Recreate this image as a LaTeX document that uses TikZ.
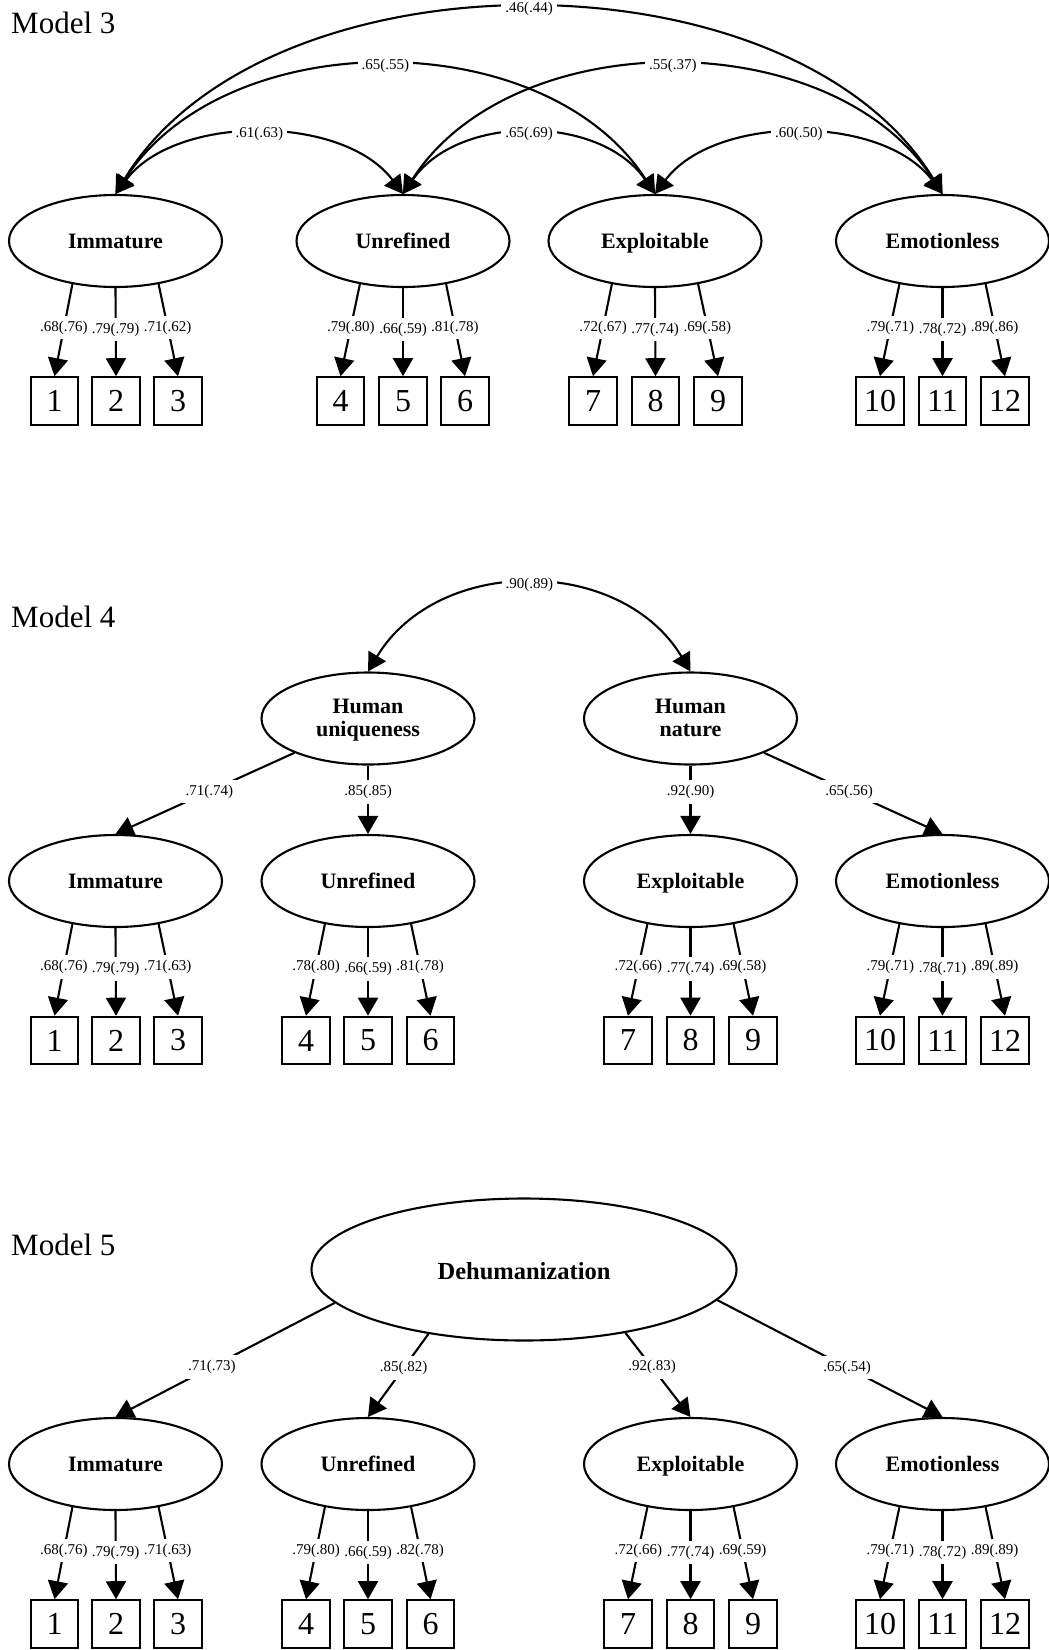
\documentclass[tikz,border=0pt]{standalone}
\usepackage{fontspec}
\setmainfont{Liberation Serif}
\usetikzlibrary{shapes.geometric,arrows.meta,calc}
\tikzset{
  lat/.style={ellipse,draw,line width=2.1pt,minimum width=213pt,minimum height=92pt,inner sep=0pt,font=\fontsize{22}{23}\selectfont\bfseries,align=center},
  lat1/.style={lat,text height=15pt,text depth=0pt},
  obs/.style={rectangle,draw,line width=2.1pt,minimum width=47.5pt,minimum height=47.5pt,inner sep=0pt,font=\fontsize{32}{32}\selectfont},
  conn/.style={line width=2.1pt,-{Triangle[length=18pt,width=20pt]}},
  cov/.style={line width=2.1pt,{Triangle[length=18pt,width=20pt]}-{Triangle[length=18pt,width=20pt]}},
  lbl/.style={fill=white,inner xsep=4pt,inner ysep=5pt,font=\fontsize{15}{15}\selectfont},
  mtitle/.style={font=\fontsize{31}{31}\selectfont,anchor=base west,inner sep=0pt}
}
\newcommand\mkload[7]{%
 \draw[conn] (#1.225) -- node[lbl,pos=0.47]{#5} (#2.north);
 \draw[conn] (#1.south) -- node[lbl,pos=0.47]{#6} (#3.north);
 \draw[conn] (#1.315) -- node[lbl,pos=0.47]{#7} (#4.north);}
\begin{document}
\begin{tikzpicture}[x=1pt,y=-1pt]
\useasboundingbox (0,0) rectangle (1049,1650);
\fill[white] (0,0) rectangle (1049,1650);

% ---------------- Model 3 ----------------
\node[mtitle] (t3) at (11,33) {Model 3};
\node[lat1] (i3) at (115.5,241) {Immature};
\node[lat1] (u3) at (403,241) {Unrefined};
\node[lat1] (x3) at (655,241) {Exploitable};
\node[lat1] (e3) at (942.5,241) {Emotionless};
\foreach \n/\x in {1/54.5,2/116,3/178,4/340.5,5/403,6/465,7/593,8/655.5,9/718,10/880,11/942.5,12/1005}
  \node[obs] (a\n) at (\x,401) {\n};
\mkload{i3}{a1}{a2}{a3}{.68(.76)}{.79(.79)}{.71(.62)}
\mkload{u3}{a4}{a5}{a6}{.79(.80)}{.66(.59)}{.81(.78)}
\mkload{x3}{a7}{a8}{a9}{.72(.67)}{.77(.74)}{.69(.58)}
\mkload{e3}{a10}{a11}{a12}{.79(.71)}{.78(.72)}{.89(.86)}
\draw[cov] (i3.north) .. controls +(150,-247) and +(-150,-247) .. node[lbl]{.46(.44)} (e3.north);
\draw[cov] (i3.north) .. controls +(110,-171) and +(-110,-171) .. node[lbl]{.65(.55)} (x3.north);
\draw[cov] (u3.north) .. controls +(110,-171) and +(-110,-171) .. node[lbl]{.55(.37)} (e3.north);
\draw[cov] (i3.north) .. controls +(60,-80) and +(-60,-80) .. node[lbl]{.61(.63)} (u3.north);
\draw[cov] (u3.north) .. controls +(55,-80) and +(-55,-80) .. node[lbl]{.65(.69)} (x3.north);
\draw[cov] (x3.north) .. controls +(60,-80) and +(-60,-80) .. node[lbl]{.60(.50)} (e3.north);

% ---------------- Model 4 ----------------
\node[mtitle] (t4) at (11,627) {Model 4};
\node[lat] (hu) at (368,718.5) {\rule{0pt}{19pt}Human\\uniqueness\strut};
\node[lat] (hn) at (690.5,718.5) {\rule{0pt}{19pt}Human\\nature\strut};
\node[lat1] (i4) at (115.5,881) {Immature};
\node[lat1] (u4) at (368,881) {Unrefined};
\node[lat1] (x4) at (690.5,881) {Exploitable};
\node[lat1] (e4) at (942.5,881) {Emotionless};
\foreach \n/\x in {1/54.5,2/116,3/178,4/306,5/368,6/430.5,7/628,8/690.5,9/753,10/880,11/942.5,12/1005}
  \node[obs] (c\n) at (\x,1040.5) {\n};
\mkload{i4}{c1}{c2}{c3}{.68(.76)}{.79(.79)}{.71(.63)}
\mkload{u4}{c4}{c5}{c6}{.78(.80)}{.66(.59)}{.81(.78)}
\mkload{x4}{c7}{c8}{c9}{.72(.66)}{.77(.74)}{.69(.58)}
\mkload{e4}{c10}{c11}{c12}{.79(.71)}{.78(.71)}{.89(.89)}
\draw[cov] (hu.north) .. controls +(70,-116) and +(-70,-116) .. node[lbl]{.90(.89)} (hn.north);
\draw[conn] (hu.205) -- node[lbl,pos=0.476]{.71(.74)} (i4.north);
\draw[conn] (hu.south) -- node[lbl,pos=0.39]{.85(.85)} (u4.north);
\draw[conn] (hn.south) -- node[lbl,pos=0.39]{.92(.90)} (x4.north);
\draw[conn] (hn.335) -- node[lbl,pos=0.476]{.65(.56)} (e4.north);

% ---------------- Model 5 ----------------
\node[mtitle] (t5) at (11,1255) {Model 5};
\node[lat,minimum width=425pt,minimum height=142pt,font=\fontsize{24.5}{25}\selectfont\bfseries] (dh) at (524,1269.5) {\rule{0pt}{20.7pt}Dehumanization};
\node[lat1] (i5) at (115.5,1464) {Immature};
\node[lat1] (u5) at (368,1464) {Unrefined};
\node[lat1] (x5) at (690.5,1464) {Exploitable};
\node[lat1] (e5) at (942.5,1464) {Emotionless};
\foreach \n/\x in {1/54.5,2/116,3/178,4/306,5/368,6/430.5,7/628,8/690.5,9/753,10/880,11/942.5,12/1005}
  \node[obs] (d\n) at (\x,1624) {\n};
\mkload{i5}{d1}{d2}{d3}{.68(.76)}{.79(.79)}{.71(.63)}
\mkload{u5}{d4}{d5}{d6}{.79(.80)}{.66(.59)}{.82(.78)}
\mkload{x5}{d7}{d8}{d9}{.72(.66)}{.77(.74)}{.69(.59)}
\mkload{e5}{d10}{d11}{d12}{.79(.71)}{.78(.72)}{.89(.89)}
\draw[conn] (dh.190) -- node[lbl,pos=0.56]{.71(.73)} (i5.north);
\draw[conn] (dh.214) -- node[lbl,pos=0.41]{.85(.82)} (u5.north);
\draw[conn] (dh.328) -- node[lbl,pos=0.41]{.92(.83)} (x5.north);
\draw[conn] (dh.351) -- node[lbl,pos=0.576]{.65(.54)} (e5.north);
\end{tikzpicture}
\end{document}
